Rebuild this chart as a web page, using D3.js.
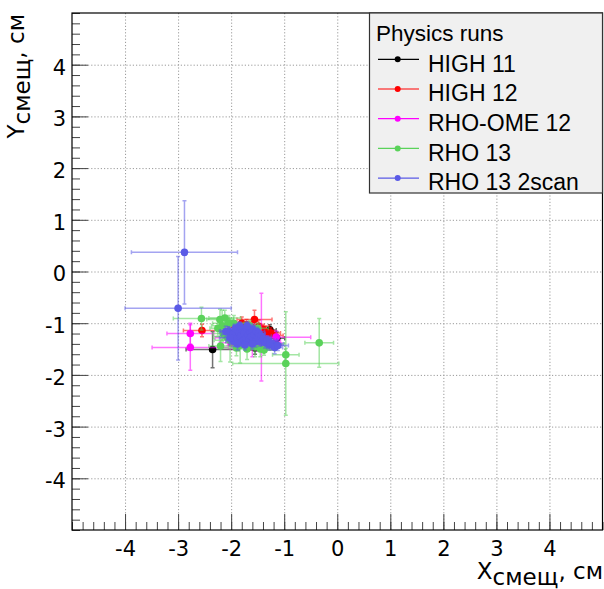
<!DOCTYPE html>
<html>
<head>
<meta charset="utf-8">
<script src="https://cdn.jsdelivr.net/npm/d3@7"></script>
<style>
  html, body { margin: 0; padding: 0; background: #fff; }
  svg { display: block; }
</style>
</head>
<body>
<svg id="chart" width="604" height="589"></svg>
<script>
// Beam spot displacement per run, [x, y, errX, errY] in cm
const high11 = [
  [-2.35, -1.51, 0.50, 0.35],
  [-1.80, -1.35, 0.12, 0.10],
  [-1.72, -1.18, 0.15, 0.10],
  [-1.62, -1.42, 0.12, 0.10],
  [-1.55, -1.48, 0.14, 0.12],
  [-1.52, -1.22, 0.12, 0.10],
  [-1.45, -1.30, 0.14, 0.12],
  [-1.38, -1.25, 0.10, 0.10],
  [-1.27, -1.13, 0.12, 0.10],
  [-1.14, -1.29, 0.15, 0.12],
  [-1.30, -1.36, 0.15, 0.12]
];
const high12 = [
  [-2.55, -1.14, 0.35, 0.12],
  [-1.56, -0.93, 0.33, 0.18],
  [-1.25, -1.19, 0.18, 0.10],
  [-1.36, -1.16, 0.15, 0.10],
  [-1.80, -1.00, 0.15, 0.12],
  [-1.71, -1.03, 0.12, 0.10],
  [-1.62, -1.08, 0.12, 0.10],
  [-1.48, -1.06, 0.20, 0.12],
  [-1.40, -1.12, 0.15, 0.10],
  [-1.66, -1.14, 0.12, 0.10],
  [-1.92, -1.08, 0.15, 0.10],
  [-1.30, -1.22, 0.15, 0.10],
  [-1.52, -1.18, 0.12, 0.10],
  [-1.20, -1.24, 0.18, 0.10],
  [-1.85, -1.13, 0.12, 0.10]
];
const rhoOme12 = [
  [-2.77, -1.20, 0.44, 0.20],
  [-2.77, -1.47, 0.72, 0.44],
  [-1.43, -1.27, 0.10, 0.85],
  [-1.15, -1.27, 0.65, 0.12],
  [-1.90, -1.32, 0.20, 0.12],
  [-1.70, -1.38, 0.25, 0.15],
  [-2.05, -1.28, 0.25, 0.15],
  [-1.25, -1.40, 0.20, 0.12],
  [-1.60, -1.45, 0.15, 0.20],
  [-1.80, -1.20, 0.20, 0.12],
  [-2.00, -1.38, 0.22, 0.12],
  [-1.32, -1.35, 0.25, 0.10],
  [-1.50, -1.42, 0.18, 0.12]
];
const rho13 = [
  [-2.56, -0.91, 0.53, 0.22],
  [-2.21, -0.93, 0.25, 0.20],
  [-2.12, -0.90, 0.30, 0.15],
  [-2.08, -1.26, 0.25, 0.12],
  [-2.02, -1.33, 0.30, 0.42],
  [-2.20, -1.44, 0.22, 0.30],
  [-2.17, -1.05, 0.20, 0.30],
  [-1.95, -1.00, 0.25, 0.15],
  [-2.05, -1.00, 0.30, 0.15],
  [-1.83, -1.42, 0.20, 0.35],
  [-1.90, -1.48, 0.30, 0.15],
  [-1.75, -1.30, 0.20, 0.15],
  [-1.55, -1.45, 0.25, 0.20],
  [-1.45, -1.50, 0.20, 0.15],
  [-1.38, -1.52, 0.20, 0.10],
  [-1.30, -1.40, 0.30, 0.12],
  [-0.97, -1.61, 0.25, 0.12],
  [-0.97, -1.78, 1.00, 1.00],
  [-0.34, -1.38, 0.27, 0.47],
  [-1.65, -1.05, 0.20, 0.10],
  [-1.88, -1.15, 0.22, 0.10],
  [-2.15, -1.20, 0.20, 0.12],
  [-1.70, -1.50, 0.20, 0.20],
  [-1.60, -1.35, 0.15, 0.12],
  [-2.25, -1.10, 0.15, 0.15],
  [-1.50, -1.10, 0.20, 0.10]
];
const rho13scan = [
  [-2.88, 0.37, 1.00, 1.00],
  [-3.00, -0.71, 1.00, 1.00],
  [-2.05, -1.15, 0.15, 0.08],
  [-1.98, -1.22, 0.20, 0.10],
  [-1.92, -1.10, 0.12, 0.08],
  [-1.90, -1.30, 0.18, 0.10],
  [-1.85, -1.18, 0.15, 0.08],
  [-1.82, -1.25, 0.20, 0.12],
  [-1.80, -1.12, 0.12, 0.08],
  [-1.78, -1.35, 0.15, 0.10],
  [-1.75, -1.20, 0.18, 0.08],
  [-1.72, -1.28, 0.12, 0.10],
  [-1.70, -1.15, 0.15, 0.08],
  [-1.68, -1.22, 0.20, 0.10],
  [-1.66, -1.32, 0.12, 0.08],
  [-1.64, -1.18, 0.15, 0.10],
  [-1.62, -1.26, 0.18, 0.08],
  [-1.60, -1.12, 0.12, 0.10],
  [-1.58, -1.30, 0.15, 0.08],
  [-1.56, -1.22, 0.20, 0.10],
  [-1.54, -1.36, 0.12, 0.10],
  [-1.52, -1.16, 0.15, 0.08],
  [-1.50, -1.28, 0.18, 0.10],
  [-1.48, -1.20, 0.12, 0.08],
  [-1.46, -1.34, 0.15, 0.10],
  [-1.44, -1.25, 0.20, 0.08],
  [-1.40, -1.30, 0.15, 0.10],
  [-1.36, -1.38, 0.12, 0.10],
  [-1.32, -1.33, 0.18, 0.08],
  [-1.28, -1.42, 0.15, 0.10],
  [-1.22, -1.40, 0.20, 0.10],
  [-1.18, -1.47, 0.15, 0.12],
  [-1.12, -1.43, 0.20, 0.10],
  [-1.27, -1.38, 0.15, 0.08],
  [-1.95, -1.35, 0.15, 0.10],
  [-2.02, -1.28, 0.20, 0.10],
  [-1.88, -1.40, 0.15, 0.12],
  [-1.74, -1.42, 0.12, 0.10],
  [-1.60, -1.40, 0.15, 0.10],
  [-1.84, -1.05, 0.12, 0.08],
  [-1.70, -1.05, 0.15, 0.08],
  [-2.10, -1.16, 0.12, 0.10]
];

const seriesNames = ["HIGH 11", "HIGH 12", "RHO-OME 12", "RHO 13", "RHO 13 2scan"];
const seriesColors = ["#000000", "#ff0000", "#ff00ff", "#5ad25a", "#5a5ae6"];
const seriesData = [high11, high12, rhoOme12, rho13, rho13scan];

const xTickValues = [-4, -3, -2, -1, 0, 1, 2, 3, 4];
const yTickValues = [-4, -3, -2, -1, 0, 1, 2, 3, 4];
const legendTitle = "Physics runs";

const frame = { left: 72, right: 602.5, top: 13, bottom: 530 };
const svg = d3.select("#chart");

const x = d3.scaleLinear().domain([-5, 5]).range([frame.left, frame.right]);
const y = d3.scaleLinear().domain([-5, 5]).range([frame.bottom, frame.top]);
const minorTicks = d3.range(-25, 26).map(i => +(i * 0.2).toFixed(1));

// dotted grid at the labelled ticks
const grid = svg.append("g").attr("stroke", "#9a9a9a").attr("stroke-width", 1)
  .attr("stroke-dasharray", "1.2,2");
grid.selectAll("line.gx").data(xTickValues).join("line").attr("class", "gx")
  .attr("x1", d => x(d) + 0.5).attr("x2", d => x(d) + 0.5)
  .attr("y1", frame.top).attr("y2", frame.bottom);
grid.selectAll("line.gy").data(yTickValues).join("line").attr("class", "gy")
  .attr("y1", d => y(d) + 0.5).attr("y2", d => y(d) + 0.5)
  .attr("x1", frame.left).attr("x2", frame.right);

// axes: ticks point into the frame
const tickFont = "DejaVu Sans, sans-serif";
const xMinor = svg.append("g").attr("transform", `translate(0,${frame.bottom})`)
  .call(d3.axisBottom(x).tickValues(minorTicks).tickSize(-8).tickSizeOuter(0).tickFormat(""));
const xMajor = svg.append("g").attr("transform", `translate(0,${frame.bottom})`)
  .call(d3.axisBottom(x).tickValues(xTickValues).tickSize(-16).tickSizeOuter(0)
    .tickPadding(11).tickFormat(d => String(d)));
const yMinor = svg.append("g").attr("transform", `translate(${frame.left},0)`)
  .call(d3.axisLeft(y).tickValues(minorTicks).tickSize(-8).tickSizeOuter(0).tickFormat(""));
const yMajor = svg.append("g").attr("transform", `translate(${frame.left},0)`)
  .call(d3.axisLeft(y).tickValues(yTickValues).tickSize(-16).tickSizeOuter(0)
    .tickPadding(6).tickFormat(d => String(d)));

[xMinor, xMajor, yMinor, yMajor].forEach(g => {
  g.selectAll(".tick line").attr("stroke", "#444").attr("stroke-width", 1);
  g.select(".domain").remove();
  g.selectAll("text").attr("font-family", tickFont).attr("font-size", 21).attr("fill", "#000");
});
yMajor.selectAll("text").attr("dy", "0.45em");

// frame box
svg.append("rect")
  .attr("x", frame.left).attr("y", frame.top)
  .attr("width", frame.right - frame.left).attr("height", frame.bottom - frame.top)
  .attr("fill", "none").attr("stroke", "#000").attr("stroke-width", 1.2);

// axis titles with subscripts
const xTitle = svg.append("text")
  .attr("x", 603).attr("y", 579)
  .attr("text-anchor", "end")
  .attr("font-family", tickFont).attr("font-size", 23);
xTitle.append("tspan").text("X");
xTitle.append("tspan").attr("dy", 6).text("смещ");
xTitle.append("tspan").attr("dy", -6).text(", см");

const yTitle = svg.append("text")
  .attr("transform", `translate(24,14) rotate(-90)`)
  .attr("text-anchor", "end")
  .attr("font-family", tickFont).attr("font-size", 23);
yTitle.append("tspan").text("Y");
yTitle.append("tspan").attr("dy", 6).text("смещ");
yTitle.append("tspan").attr("dy", -6).text(", см");

// points with x/y error bars, one layer per run group
const cap = 2;
seriesData.forEach((data, si) => {
  const color = seriesColors[si];
  const g = svg.append("g");
  const bars = g.append("g").attr("stroke", color).attr("stroke-width", 1.5)
    .attr("stroke-opacity", 0.55).attr("fill", "none");
  bars.selectAll("path").data(data).join("path")
    .attr("d", d => {
      const cx = x(d[0]), cy = y(d[1]);
      const x0 = x(d[0] - d[2]), x1 = x(d[0] + d[2]);
      const y0 = y(d[1] - d[3]), y1 = y(d[1] + d[3]);
      return `M${x0},${cy}H${x1}` +
        `M${x0},${cy - cap}V${cy + cap}M${x1},${cy - cap}V${cy + cap}` +
        `M${cx},${y0}V${y1}` +
        `M${cx - cap},${y0}H${cx + cap}M${cx - cap},${y1}H${cx + cap}`;
    });
  g.append("g").selectAll("circle").data(data).join("circle")
    .attr("cx", d => x(d[0])).attr("cy", d => y(d[1]))
    .attr("r", 3.8).attr("fill", color);
});

// legend
const legend = svg.append("g");
legend.append("rect")
  .attr("x", 369.5).attr("y", 13).attr("width", 233).attr("height", 180)
  .attr("fill", "#f0f0f0").attr("stroke", "#333").attr("stroke-width", 1.2);
legend.append("text")
  .attr("x", 376).attr("y", 40.5)
  .attr("font-family", "Liberation Sans, Arial, sans-serif").attr("font-size", 22.5)
  .text(legendTitle);
const rows = legend.selectAll("g.row").data(seriesNames).join("g").attr("class", "row")
  .attr("transform", (d, i) => `translate(0,${59.3 + 29.7 * i})`);
rows.append("line").attr("x1", 378).attr("x2", 419).attr("y1", 0).attr("y2", 0)
  .attr("stroke", (d, i) => seriesColors[i]).attr("stroke-width", 1.2);
rows.append("circle").attr("cx", 397.7).attr("cy", 0).attr("r", 3)
  .attr("fill", (d, i) => seriesColors[i]);
rows.append("text").attr("x", 428).attr("y", 12.3)
  .attr("font-family", "Liberation Sans, Arial, sans-serif").attr("font-size", 23)
  .text(d => d);
</script>
</body>
</html>
